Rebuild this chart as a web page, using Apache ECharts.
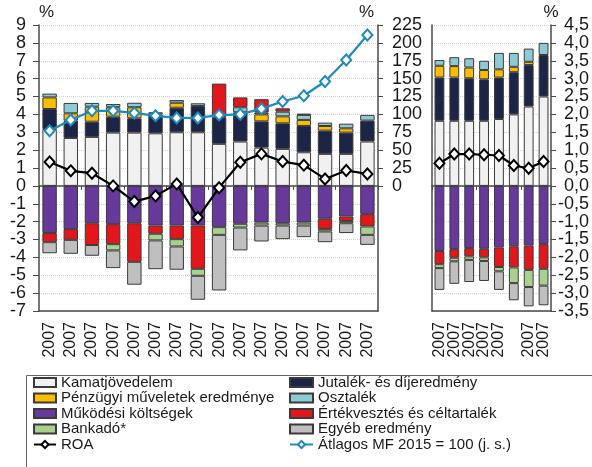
<!DOCTYPE html>
<html><head><meta charset="utf-8">
<script src="https://cdn.jsdelivr.net/npm/echarts@6/dist/echarts.min.js"></script>
<style>html,body{margin:0;padding:0;background:#fff}#c{width:592px;height:467px}</style>
</head><body><div id="c"></div>
<script>
// ---------- data ----------
const catsL = ['2007','2007','2007','2007','2007','2007','2007','2007','2007','2007','2007','2007','2007','2007','2007','2007'];
const catsR = ['2007','2007','2007','2007','2007','','2007','2007'];

const kamatL   = [3.18, 2.68, 2.74, 2.98, 2.98, 2.94, 3.00, 3.00, 2.35, 2.48, 2.14, 2.07, 1.88, 1.79, 1.79, 2.48];
const jutalekL = [1.12, 0.97, 0.85, 0.89, 0.80, 1.06, 1.37, 1.47, 1.49, 1.64, 1.47, 1.43, 1.47, 1.30, 1.19, 1.17];
const penzL    = [0.65, 0.41, 0.84, 0.53, 0.62, 0, 0.28, 0, 0, 0, 0.39, 0.39, 0.34, 0.26, 0.24, 0];
const osztL    = [0.21, 0.58, 0.21, 0.18, 0.25, 0.12, 0.15, 0.15, 0, 0.28, 0.10, 0.26, 0.28, 0.19, 0.26, 0.32];
const mukL     = [-2.64, -2.42, -2.09, -2.14, -2.09, -2.22, -2.22, -2.22, -2.31, -2.12, -2.05, -2.09, -2.05, -1.84, -1.71, -1.58];
const ertekL   = [-0.51, -0.60, -1.22, -1.12, -2.16, -0.46, -0.76, -2.42, 1.88, 0.55, 0.75, 0.19, 0.07, -0.58, -0.26, -0.69];
const bankL    = [0, 0, 0, -0.35, 0, -0.37, -0.41, -0.39, -0.43, -0.21, -0.17, -0.13, -0.17, -0.13, -0.12, -0.47];
const egyebL   = [-0.62, -0.78, -0.60, -0.99, -1.28, -1.61, -1.30, -1.34, -3.11, -1.28, -0.89, -0.76, -0.65, -0.60, -0.55, -0.56];
const roaL     = [1.34, 0.84, 0.71, 0.00, -0.88, -0.56, 0.11, -1.77, -0.10, 1.32, 1.79, 1.36, 1.16, 0.39, 0.86, 0.67];
const mfL      = [77, 92, 105, 105, 102, 98, 95, 95, 99, 100, 108, 118, 126, 146, 176, 211];

const kamatR   = [1.82, 1.82, 1.82, 1.82, 1.87, 2.00, 2.22, 2.50];
const jutalekR = [1.21, 1.21, 1.19, 1.16, 1.16, 1.18, 1.16, 1.16];
const penzR    = [0.33, 0.32, 0.30, 0.26, 0.23, 0.15, 0.09, 0];
const osztR    = [0.16, 0.25, 0.26, 0.26, 0.46, 0.39, 0.37, 0.34];
const mukR     = [-1.82, -1.77, -1.74, -1.76, -1.72, -1.69, -1.67, -1.63];
const ertekR   = [-0.37, -0.24, -0.23, -0.24, -0.55, -0.59, -0.68, -0.69];
const bankR    = [-0.11, -0.10, -0.10, -0.10, -0.12, -0.44, -0.48, -0.47];
const egyebR   = [-0.61, -0.63, -0.62, -0.56, -0.52, -0.48, -0.54, -0.55];
const roaR     = [0.63, 0.89, 0.89, 0.87, 0.85, 0.57, 0.49, 0.68];

const tickL  = [-7,-6,-5,-4,-3,-2,-1,0,1,2,3,4,5,6,7,8,9];
const tickMF = [0, 25, 50, 75, 100, 125, 150, 175, 200, 225];

const N = {
  kamat: 'Kamatjövedelem', jut: 'Jutalék- és díjeredmény', penz: 'Pénzügyi műveletek eredménye',
  oszt: 'Osztalék', muk: 'Működési költségek', ertek: 'Értékvesztés és céltartalék',
  bank: 'Bankadó*', egyeb: 'Egyéb eredmény', roa: 'ROA', mf: 'Átlagos MF 2015 = 100 (j. s.)'
};
const C = {
  kamat: '#f1f1f1', jut: '#1d2546', penz: '#fbbd00', oszt: '#8ecad3', muk: '#66399a',
  ertek: '#e3161b', bank: '#a9d18e', egyeb: '#bfbfbf', roa: '#000000', mf: '#1d8bbf'
};

// ---------- build ----------
const FONT = 'Liberation Sans';
const TXT = '#1a1a1a';
const AX = '#4a4a4a';

function bar(key, data, panel) {
  return {
    type: 'bar', name: N[key], stack: panel === 0 ? 'L' : 'R',
    xAxisIndex: panel === 0 ? 0 : 2, yAxisIndex: panel === 0 ? 0 : 2,
    barCategoryGap: panel === 0 ? '32%' : '34%',
    data: data.map(v => v === 0 ? null : v),
    itemStyle: { color: C[key], borderColor: '#3a3a3a', borderWidth: 1 },
    emphasis: { disabled: true }, animation: false
  };
}
function line(key, data, xi, yi) {
  return {
    type: 'line', name: N[key], xAxisIndex: xi, yAxisIndex: yi, data: data,
    symbol: 'diamond', symbolSize: [10, 11], z: 5,
    lineStyle: { color: C[key], width: 2.2 },
    itemStyle: { color: '#ffffff', borderColor: C[key], borderWidth: 2 },
    emphasis: { disabled: true }, animation: false
  };
}

const series = [
  bar('kamat', kamatL, 0), bar('jut', jutalekL, 0), bar('penz', penzL, 0), bar('oszt', osztL, 0),
  bar('muk', mukL, 0), bar('ertek', ertekL, 0), bar('bank', bankL, 0), bar('egyeb', egyebL, 0),
  bar('kamat', kamatR, 1), bar('jut', jutalekR, 1), bar('penz', penzR, 1), bar('oszt', osztR, 1),
  bar('muk', mukR, 1), bar('ertek', ertekR, 1), bar('bank', bankR, 1), bar('egyeb', egyebR, 1),
  line('mf', mfL, 0, 1), line('roa', roaL, 0, 0), line('roa', roaR, 2, 3)
];

const labelFont = { fontFamily: FONT, fontSize: 18, color: TXT };
const splitL = { show: true, lineStyle: { color: '#d4d4d4', type: 'dotted', width: 1 } };

function xLabels(gridIndex, data) {
  return {
    type: 'category', gridIndex, data, position: 'bottom',
    axisLine: { onZero: false, lineStyle: { color: AX, width: 1.5 } },
    axisTick: { show: false },
    axisLabel: { rotate: 90, interval: 0, margin: 11, fontFamily: FONT, fontSize: 16, color: TXT }
  };
}
function xZero(gridIndex, data) {
  return {
    type: 'category', gridIndex, data, position: 'top',
    axisLine: { onZero: true, lineStyle: { color: AX, width: 1.5 } },
    axisTick: { show: true, inside: true, length: 4, lineStyle: { color: AX } },
    axisLabel: { show: false }
  };
}

const option = {
  animation: false,
  backgroundColor: '#ffffff',
  textStyle: { fontFamily: FONT },
  grid: [
    { left: 39, right: 214, top: 25, bottom: 156 },
    { left: 432, right: 39, top: 25, bottom: 156 }
  ],
  xAxis: [ xLabels(0, catsL), xZero(0, catsL), xLabels(1, catsR), xZero(1, catsR) ],
  yAxis: [
    { type: 'value', gridIndex: 0, position: 'left', min: tickL[0], max: tickL[tickL.length - 1], interval: 1,
      name: '%', nameLocation: 'end', nameGap: 4,
      nameTextStyle: { fontFamily: FONT, fontSize: 17, color: TXT, align: 'left' },
      axisLine: { show: true, lineStyle: { color: AX, width: 1.5 } },
      axisTick: { show: true, length: 6, lineStyle: { color: AX } },
      axisLabel: Object.assign({ margin: 13 }, labelFont),
      splitLine: splitL },
    { type: 'value', gridIndex: 0, position: 'right', min: -175, max: tickMF[tickMF.length - 1], interval: 25,
      name: '%', nameLocation: 'end', nameGap: 4,
      nameTextStyle: { fontFamily: FONT, fontSize: 17, color: TXT, align: 'right', padding: [0, 4, 0, 0] },
      axisLine: { show: true, lineStyle: { color: AX, width: 1.5 } },
      axisTick: { show: true, length: 5, lineStyle: { color: AX }, customValues: tickMF },
      axisLabel: Object.assign({ margin: 14, customValues: tickMF }, labelFont),
      splitLine: { show: false } },
    { type: 'value', gridIndex: 1, position: 'left', min: -3.5, max: 4.5, interval: 0.5,
      axisLine: { show: true, lineStyle: { color: AX, width: 1.5 } },
      axisTick: { show: false }, axisLabel: { show: false },
      splitLine: splitL },
    { type: 'value', gridIndex: 1, position: 'right', min: -3.5, max: 4.5, interval: 0.5,
      name: '%', nameLocation: 'end', nameGap: 4,
      nameTextStyle: { fontFamily: FONT, fontSize: 17, color: TXT, align: 'center' },
      axisLine: { show: true, lineStyle: { color: AX, width: 1.5 } },
      axisTick: { show: true, length: 5, lineStyle: { color: AX } },
      axisLabel: Object.assign({ margin: 38, align: 'right',
        formatter: v => v.toFixed(1).replace('.', ',') }, labelFont),
      splitLine: { show: false } }
  ],
  legend: [
    { left: 33, top: 375, orient: 'vertical', padding: 0, itemGap: 0.5, itemWidth: 22, itemHeight: 9,
      selectedMode: false,
      textStyle: { fontFamily: FONT, fontSize: 15, color: TXT, lineHeight: 15 },
      data: [ { name: N.kamat, icon: 'rect' }, { name: N.penz, icon: 'rect' }, { name: N.muk, icon: 'rect' },
              { name: N.bank, icon: 'rect' }, { name: N.roa } ] },
    { left: 289, top: 375, orient: 'vertical', padding: 0, itemGap: 0.5, itemWidth: 23, itemHeight: 9,
      selectedMode: false,
      textStyle: { fontFamily: FONT, fontSize: 15, color: TXT, lineHeight: 15 },
      data: [ { name: N.jut, icon: 'rect' }, { name: N.oszt, icon: 'rect' }, { name: N.ertek, icon: 'rect' },
              { name: N.egyeb, icon: 'rect' }, { name: N.mf } ] }
  ],
  graphic: [
    { type: 'rect', left: 24, top: 373, z: -1, silent: true,
      shape: { width: 620, height: 120 },
      style: { fill: 'none', stroke: '#666666', lineWidth: 1 } }
  ],
  series: series
};

const chart = echarts.init(document.getElementById('c'), null, { renderer: 'canvas' });
chart.setOption(option);
</script>
</body></html>
